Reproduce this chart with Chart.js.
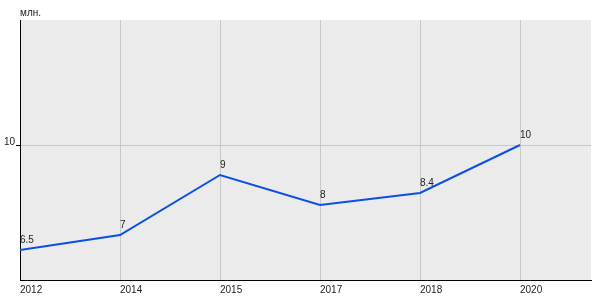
<!DOCTYPE html>
<html lang="en">
<head>
    <meta charset="UTF-8">
    <script src="https://cdn.jsdelivr.net/npm/chart.js@4.4.0/dist/chart.umd.min.js"></script>
    <title>Chart</title>
    <style>
        html, body { margin: 0; padding: 0; background: #fff; }
        #wrap { width: 600px; height: 300px; position: relative; }
    </style>
</head>
<body>
    <div id="wrap"><canvas id="myChart"></canvas></div>

    <script>
        // data
        var years = ['2012', '2014', '2015', '2017', '2018', '2020'];
        var values = [6.5, 7, 9, 8, 8.4, 10];
        var valueLabels = ['6.5', '7', '9', '8', '8.4', '10'];
        var yTicks = [10];
        var unit = 'млн.';

        var points = values.map(function (v, i) { return { x: i, y: v }; });

        // grey plot background, unit text and point labels
        var extras = {
            id: 'extras',
            beforeDraw: function (chart) {
                var a = chart.chartArea, ctx = chart.ctx;
                ctx.save();
                ctx.fillStyle = '#ebebeb';
                ctx.fillRect(a.left, a.top, a.right - a.left, a.bottom - a.top);
                ctx.restore();
            },
            afterDatasetsDraw: function (chart) {
                var ctx = chart.ctx;
                var meta = chart.getDatasetMeta(0);
                ctx.save();
                ctx.font = '10px "Liberation Sans", Arial, sans-serif';
                ctx.fillStyle = '#222';
                ctx.textAlign = 'left';
                ctx.textBaseline = 'alphabetic';
                meta.data.forEach(function (pt, i) {
                    ctx.fillText(valueLabels[i], pt.x, pt.y - 7);
                });
                ctx.fillText(unit, chart.chartArea.left, 16);
                ctx.restore();
            }
        };

        var ctx = document.getElementById('myChart').getContext('2d');
        var myChart = new Chart(ctx, {
            type: 'line',
            data: {
                datasets: [{
                    data: points,
                    borderColor: '#0a50e6',
                    borderWidth: 2,
                    pointRadius: 0,
                    tension: 0,
                    fill: false
                }]
            },
            options: {
                responsive: true,
                maintainAspectRatio: false,
                animation: false,
                layout: { padding: { top: 20, right: 9, left: 0, bottom: 0 } },
                plugins: { legend: { display: false }, tooltip: { enabled: false } },
                scales: {
                    x: {
                        type: 'linear',
                        min: 0,
                        max: 5.71,
                        afterBuildTicks: function (scale) {
                            scale.ticks = years.map(function (y, i) { return { value: i }; });
                        },
                        afterFit: function (scale) { scale.height = 20; },
                        ticks: {
                            align: 'start',
                            padding: 4,
                            maxRotation: 0,
                            color: '#222',
                            font: { family: '"Liberation Sans", Arial, sans-serif', size: 10 },
                            callback: function (v) { return years[v]; }
                        },
                        grid: { color: '#c8c8c8', drawTicks: false },
                        border: { color: '#000', width: 1 }
                    },
                    y: {
                        min: 5.5,
                        max: 14.1667,
                        afterBuildTicks: function (scale) {
                            scale.ticks = yTicks.map(function (v) { return { value: v }; });
                        },
                        afterFit: function (scale) { scale.width = 20; },
                        ticks: {
                            padding: 1,
                            labelOffset: -3,
                            color: '#222',
                            font: { family: '"Liberation Sans", Arial, sans-serif', size: 10 }
                        },
                        grid: { color: '#c8c8c8', tickColor: '#000', tickLength: 4 },
                        border: { color: '#000', width: 1 }
                    }
                }
            },
            plugins: [extras]
        });
    </script>
</body>
</html>
